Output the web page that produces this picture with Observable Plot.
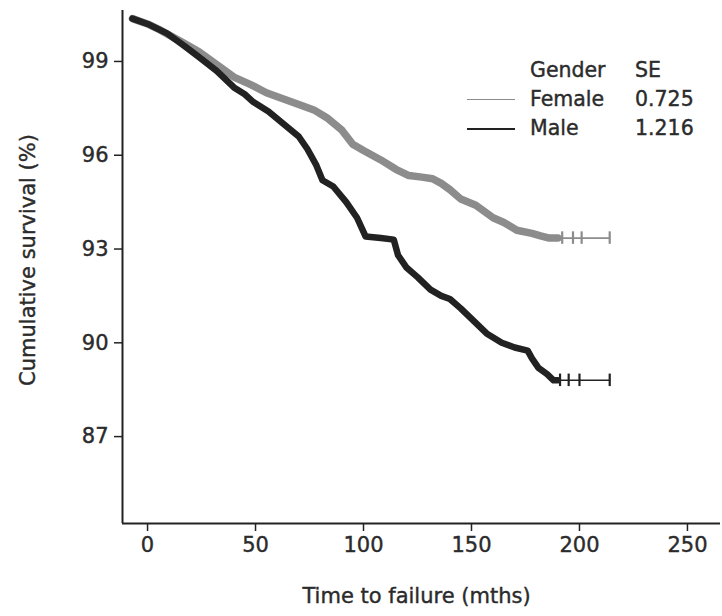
<!DOCTYPE html>
<html>
<head>
<meta charset="utf-8">
<script src="https://cdn.jsdelivr.net/npm/d3@7"></script>
<script src="https://cdn.jsdelivr.net/npm/@observablehq/plot@0.6"></script>
<style>
  html, body { margin: 0; padding: 0; background: #fff; }
  #wrap { position: relative; width: 722px; height: 616px; }
  #wrap svg text { stroke: #2b2b2b; stroke-width: 0.4px; }
  #legend {
    position: absolute; left: 467px; top: 58px;
    font-family: "DejaVu Sans", sans-serif; font-size: 20.5px; color: #2b2b2b;
    -webkit-text-stroke: 0.4px #2b2b2b;
    display: grid; grid-template-columns: 63px 105px auto; row-gap: 4px;
    line-height: 25px; letter-spacing: 0px;
  }
  #legend .sw { display: flex; align-items: center; }
  #legend .sw span { display: block; width: 48px; height: 0; }
</style>
</head>
<body>
<div id="wrap"></div>
<script>
// ---- data ----
const femaleT = [-7, 0, 6, 13, 19, 24, 32, 40, 48, 55, 63, 71, 77, 83, 90, 95, 100, 108, 115, 121, 127, 132, 136, 140, 145, 152, 160, 165, 171, 178, 182, 186, 190];
const femaleV = [100.37, 100.2, 100.0, 99.73, 99.5, 99.3, 98.9, 98.5, 98.25, 98.0, 97.8, 97.6, 97.45, 97.2, 96.8, 96.35, 96.15, 95.85, 95.55, 95.35, 95.3, 95.25, 95.1, 94.9, 94.6, 94.4, 94.0, 93.85, 93.6, 93.5, 93.42, 93.35, 93.35];
const femaleEnd = 214;
const femaleCensor = [192, 197, 201, 214];

const maleT = [-7, 0, 9, 17, 24, 32, 40, 45, 49, 56, 63, 70, 74, 78, 81, 86, 92, 97, 101, 108, 114, 116, 120, 125, 131, 136, 140, 145, 151, 157, 164, 170, 176, 178, 181, 185, 188, 190];
const maleV = [100.37, 100.2, 99.9, 99.5, 99.13, 98.7, 98.17, 97.95, 97.7, 97.4, 97.0, 96.6, 96.2, 95.7, 95.2, 95.0, 94.5, 94.0, 93.4, 93.35, 93.3, 92.8, 92.4, 92.1, 91.7, 91.5, 91.4, 91.1, 90.7, 90.3, 90.0, 89.85, 89.75, 89.5, 89.2, 89.0, 88.8, 88.8];
const maleEnd = 214;
const maleCensor = [191, 195, 200, 214];

const xTicks = [0, 50, 100, 150, 200, 250];
const yTicks = [87, 90, 93, 96, 99];
const xDomain = [-11.6, 265.3];
const yDomain = [84.22, 100.63];
const xTitle = "Time to failure (mths)";
const yTitle = "Cumulative survival (%)";
const legendRows = [
  {gender: "Female", se: "0.725", color: "#8c8c8c"},
  {gender: "Male", se: "1.216", color: "#222"}
];

// ---- build tables ----
const female = femaleT.map((t, i) => ({t, v: femaleV[i]}));
const male = maleT.map((t, i) => ({t, v: maleV[i]}));
const fLast = female[female.length - 1], mLast = male[male.length - 1];
const femaleTail = [fLast, {t: femaleEnd, v: fLast.v}];
const maleTail = [mLast, {t: maleEnd, v: mLast.v}];
const fCens = femaleCensor.map(t => ({t, v: fLast.v}));
const mCens = maleCensor.map(t => ({t, v: mLast.v}));

const FONT = "DejaVu Sans, sans-serif";
const TXT = "#2b2b2b";

const chart = Plot.plot({
  width: 722,
  height: 616,
  marginLeft: 122,
  marginRight: 2,
  marginTop: 10,
  marginBottom: 93,
  style: {fontFamily: FONT, color: TXT, background: "#fff", overflow: "visible"},
  x: {domain: xDomain},
  y: {domain: yDomain},
  marks: [
    Plot.axisY({ticks: yTicks, tickSize: 8, tickPadding: 6, fontSize: 21, label: null, stroke: "#222", strokeWidth: 1.5, fill: TXT}),
    Plot.axisX({ticks: xTicks, tickSize: 8, tickPadding: 6, fontSize: 21, label: null, stroke: "#222", strokeWidth: 1.5, fill: TXT}),
    Plot.ruleX([xDomain[0]], {stroke: "#222", strokeWidth: 2}),
    Plot.ruleY([yDomain[0]], {stroke: "#222", strokeWidth: 2}),
    // tails
    Plot.line(femaleTail, {x: "t", y: "v", stroke: "#8c8c8c", strokeWidth: 1.6}),
    Plot.line(maleTail, {x: "t", y: "v", stroke: "#222", strokeWidth: 1.6}),
    Plot.ruleX(fCens, {x: "t", y1: d => d.v - 0.2, y2: d => d.v + 0.2, stroke: "#8c8c8c", strokeWidth: 2.2}),
    Plot.ruleX(mCens, {x: "t", y1: d => d.v - 0.2, y2: d => d.v + 0.2, stroke: "#222", strokeWidth: 2.2}),
    // main curves
    Plot.line(female, {x: "t", y: "v", stroke: "#8c8c8c", strokeWidth: 7.5}),
    Plot.line(male, {x: "t", y: "v", stroke: "#222", strokeWidth: 6.5}),
    // titles
    Plot.text([xTitle], {frameAnchor: "bottom", dy: 79, dx: -5, fontSize: 21, letterSpacing: "1.1px", fill: TXT, text: d => d}),
    Plot.text([yTitle], {frameAnchor: "left", textAnchor: "middle", dx: -94, dy: -7, rotate: -90, fontSize: 21, fill: TXT, text: d => d})
  ]
});

const wrap = document.getElementById("wrap");
wrap.appendChild(chart);

const legend = document.createElement("div");
legend.id = "legend";
let html = `<div></div><div>Gender</div><div>SE</div>`;
for (const r of legendRows) {
  html += `<div class="sw"><span style="border-top:${r.gender === "Male" ? 2 : 1.5}px solid ${r.color}"></span></div><div>${r.gender}</div><div>${r.se}</div>`;
}
legend.innerHTML = html;
wrap.appendChild(legend);
</script>
</body>
</html>
